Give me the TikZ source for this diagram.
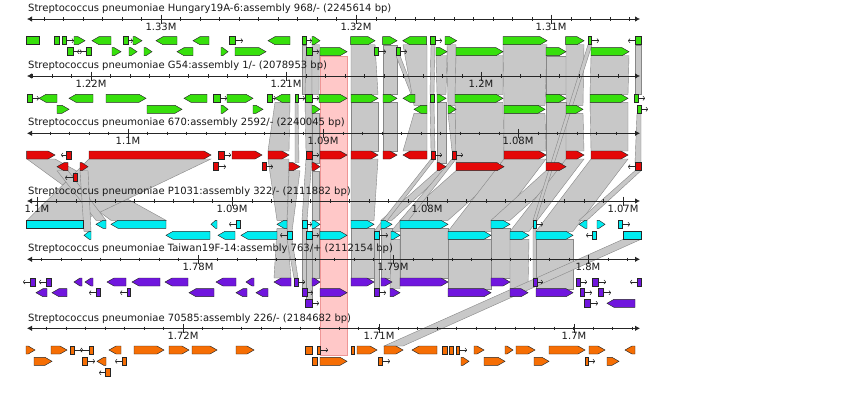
\documentclass[tikz,border=0pt]{standalone}
\usepackage{fontspec}
\setmainfont{DejaVu Sans}
\usetikzlibrary{arrows.meta}
\definecolor{cgreen}{RGB}{55,224,12}
\definecolor{cred}{RGB}{228,8,8}
\definecolor{ccyan}{RGB}{0,236,240}
\definecolor{cpurple}{RGB}{112,22,222}
\definecolor{corange}{RGB}{246,110,4}
\definecolor{bandfill}{RGB}{200,200,200}
\definecolor{bandline}{RGB}{135,135,135}
\definecolor{pinkfill}{RGB}{255,200,200}
\definecolor{pinkline}{RGB}{238,150,150}
\colorlet{gfill}{cgreen}
\tikzset{
  gene/.style={draw=black!85, line width=0.45pt, fill=gfill, line join=miter},
  prom/.style={draw=black!85, line width=0.5pt, -{To[length=2.2pt,width=4.6pt]}},
  bandsty/.style={fill=bandfill, draw=bandline, line width=0.4pt},
  axl/.style={draw=black!85, line width=0.8pt, {Latex[length=5pt,width=5.5pt]}-{Latex[length=5pt,width=5.5pt]}},
  tickm/.style={draw=black!85, line width=0.6pt},
  ttl/.style={font=\fontsize{10}{12}\selectfont, anchor=west, inner sep=0pt, text=black!90},
  lab/.style={font=\fontsize{10}{12}\selectfont, inner sep=0pt, text=black!90}
}
\newcommand\gR[3]{\pgfmathsetmacro\tp{min(7,0.75*(#2-#1))}\draw[gene] (#1,#3-4) -- ({#2-\tp},#3-4) -- (#2,#3) -- ({#2-\tp},#3+4) -- (#1,#3+4) -- cycle;}
\newcommand\gL[3]{\pgfmathsetmacro\tp{min(7,0.75*(#2-#1))}\draw[gene] (#2,#3-4) -- ({#1+\tp},#3-4) -- (#1,#3) -- ({#1+\tp},#3+4) -- (#2,#3+4) -- cycle;}
\newcommand\gB[3]{\draw[gene] (#1,#3-4) rectangle (#2,#3+4);}
\newcommand\pR[3]{\draw[prom] (#1,#3) -- (#2,#3);}
\newcommand\pL[3]{\draw[prom] (#2,#3) -- (#1,#3);}
\newcommand\band[6]{\draw[bandsty] (#1,#3) -- (#2,#3) -- (#5,#6) -- (#4,#6) -- cycle;}
\newcommand\trkaxis[4]{%
  \draw[axl] (27,#1) -- (640,#1);
  \foreach \k in {-12,...,32}{\pgfmathsetmacro\xx{#2+19.53*\k}\ifdim\xx pt>31pt\ifdim\xx pt<636pt\draw[tickm] (\xx,#1-1.8) -- (\xx,#1+1.8);\fi\fi}
  \foreach \x/\l [count=\i] in {#3}{\draw[tickm] (\x,#1-4.5) -- (\x,#1+4.5); \node[lab] (#4\i) at (\x,#1+7.8) {\l};}
}
\begin{document}
\begin{tikzpicture}[x=1pt,y=-1pt]
\useasboundingbox (0,0) rectangle (850,392);
\fill[white] (0,0) rectangle (850,392);
% pink highlight
\draw[fill=pinkfill, draw=pinkline, line width=0.4pt] (320,56) rectangle (347,355);
% ---------------- bands gap 1-2
\band{302}{306}{44.7}{302}{306}{94.3}
\band{306}{312}{55.7}{305}{312}{94.3}
\band{312}{319.5}{44.7}{312}{319}{94.3}
\band{351}{375}{44.7}{351}{378}{94.3}
\band{383}{397}{44.7}{383}{397}{94.3}
\band{396}{400}{55.7}{411}{415}{94.3}
\band{403}{427}{44.7}{414}{427}{105.3}
\band{431}{435}{44.7}{430}{434}{94.3}
\band{436}{447}{55.7}{437}{446}{94.3}
\band{447}{456}{44.7}{448}{456}{105.3}
\band{456}{503}{55.7}{455}{503}{94.3}
\band{503}{547}{44.7}{504}{545}{105.3}
\band{546}{566}{55.7}{546}{566}{94.3}
\band{566}{584}{44.7}{566}{583}{105.3}
\band{591}{629}{55.7}{590}{628}{94.3}
\band{635}{641}{44.7}{635}{641}{94.3}
% ---------------- bands gap 2-3
\band{275}{290}{102.3}{268}{289}{151}
\band{295}{298}{102.3}{295}{299}{162.7}
\band{305}{312}{102.3}{306}{312}{151}
\band{312}{319.5}{113.3}{312}{319.5}{162.7}
\band{351}{378}{102.3}{351}{378}{151}
\band{383}{397}{102.3}{383}{397}{151}
\band{414}{427}{113.3}{403}{427}{151}
\band{430}{434}{102.3}{431}{435}{151}
\band{437}{446}{102.3}{437}{446}{162.7}
\band{448}{456}{113.3}{452}{456}{151}
\band{455}{503}{102.3}{456}{504}{162.7}
\band{504}{545}{113.3}{504}{546}{151}
\band{546}{566}{102.3}{546}{566}{162.7}
\band{566}{583}{113.3}{566}{584}{151}
\band{590}{628}{102.3}{591}{628}{151}
\band{637}{641}{113.3}{635}{641}{162.7}
% ---------------- bands gap 3-4
\band{27}{55}{159}{111}{166}{220.3}
\band{89}{211}{159}{27}{83}{220.3}
\band{57}{68}{170.7}{96}{106}{220.3}
\band{80}{88}{170.7}{84}{91}{231.3}
\band{268}{289}{159}{277}{287}{220.3}
\band{289}{300}{170.7}{287}{292}{231.3}
\band{306}{312}{159}{302}{307}{220.3}
\band{312}{319.5}{170.7}{312}{319.5}{220.3}
\band{351}{378}{159}{351}{374}{220.3}
\band{437}{446}{170.7}{381}{392}{220.3}
\band{456}{504}{170.7}{400}{448}{220.3}
\band{431}{435}{159}{374}{379}{231.3}
\band{452}{456}{159}{391}{400}{231.3}
\band{504}{546}{159}{448}{491}{231.3}
\band{546}{566}{170.7}{491}{510}{220.3}
\band{566}{584}{159}{510}{529}{231.3}
\band{591}{628}{159}{536}{573}{231.3}
\band{635}{641}{170.7}{579}{587}{220.3}
% long thin band T1 -> T4
\band{588}{592}{44.7}{533}{536}{220.3}
% ---------------- bands gap 4-5
\band{277}{287}{228.3}{274}{291}{278}
\band{287}{292}{239.3}{294}{298}{278}
\band{302}{307}{228.3}{302}{307}{288.7}
\band{306}{312}{239.3}{306}{312}{299.3}
\band{312}{319.5}{228.3}{312}{319.5}{278}
\band{351}{374}{228.3}{351}{374}{278}
\band{374}{379}{239.3}{374}{379}{288.7}
\band{381}{392}{228.3}{381}{392}{278}
\band{391}{400}{239.3}{390}{400}{288.7}
\band{400}{448}{228.3}{400}{448}{278}
\band{448}{491}{239.3}{448}{491}{288.7}
\band{491}{510}{228.3}{491}{510}{278}
\band{510}{529}{239.3}{510}{528}{288.7}
\band{533}{536}{228.3}{533}{537}{278}
\band{536}{573}{239.3}{536}{573}{288.7}
% long band T4 -> T6
\band{623}{641}{239.3}{384}{403}{346}
% ---------------- axes and titles
\node[ttl] (t1) at (28,8.3) {Streptococcus pneumoniae Hungary19A-6:assembly 968/- (2245614 bp)};
\trkaxis{19}{161}{161/1.33M,356/1.32M,551/1.31M}{la}
\node[ttl] (t2) at (28,66) {Streptococcus pneumoniae G54:assembly 1/- (2078953 bp)};
\trkaxis{76}{91}{91/1.22M,286/1.21M,481/1.2M}{lb}
\node[ttl] (t3) at (28,122.7) {Streptococcus pneumoniae 670:assembly 2592/- (2240045 bp)};
\trkaxis{133.3}{128}{128/1.1M,323/1.09M,518/1.08M}{lc}
\node[ttl] (t4) at (28,191.7) {Streptococcus pneumoniae P1031:assembly 322/- (2111882 bp)};
\trkaxis{201}{37}{37/1.1M,232/1.09M,427/1.08M,623/1.07M}{ld}
\node[ttl] (t5) at (28,248.3) {Streptococcus pneumoniae Taiwan19F-14:assembly 763/+ (2112154 bp)};
\trkaxis{259.3}{198}{198/1.78M,393/1.79M,588/1.8M}{le}
\node[ttl] (t6) at (28,318.3) {Streptococcus pneumoniae 70585:assembly 226/- (2184682 bp)};
\trkaxis{328.3}{183}{183/1.72M,379/1.71M,574/1.7M}{lf}
% ---------------- track 1 genes (green)
\colorlet{gfill}{cgreen}
\def\ya{40.7}\def\yb{51.7}
\gB{26.7}{39.3}{\ya}
\gB{54}{59}{\ya}\gB{62.7}{66.7}{\ya}\pR{66.7}{74}{\ya}\gR{74}{85}{\ya}
\gL{92}{111}{\ya}
\gB{123}{128}{\ya}\pR{128}{133}{\ya}\gR{133}{142}{\ya}
\gL{156}{177}{\ya}
\gL{193}{209}{\ya}
\gB{229}{235}{\ya}\pR{235}{243}{\ya}
\gL{268}{290}{\ya}
\gB{302}{306}{\ya}\pR{306}{312}{\ya}\gR{312}{320}{\ya}
\gR{350.7}{375}{\ya}
\gR{382.7}{397}{\ya}
\gL{402.7}{426.7}{\ya}
\gB{430.7}{435}{\ya}\pR{435}{442}{\ya}
\gR{445}{456.7}{\ya}
\gR{503}{547}{\ya}
\gR{565.7}{584}{\ya}
\gB{588}{591.7}{\ya}\pR{591.7}{599}{\ya}
\pL{628}{635}{\ya}\gB{635}{641}{\ya}
\gB{67}{73}{\yb}\pR{73}{82}{\yb}\pL{77}{86}{\yb}\gB{86}{91}{\yb}
\gR{112}{121}{\yb}
\gR{129}{137}{\yb}
\gR{144}{152}{\yb}
\gL{177}{193}{\yb}
\gR{221}{228}{\yb}
\gR{235}{266}{\yb}
\gB{306}{312}{\yb}\pR{312}{319}{\yb}\gR{320}{347}{\yb}
\gB{374}{378}{\yb}\pR{378}{386}{\yb}
\gB{396}{400}{\yb}\pR{400}{407}{\yb}
\gR{436}{447}{\yb}
\gR{456}{503}{\yb}
\gR{546}{566}{\yb}
\gR{591}{629}{\yb}
% ---------------- track 2 genes (green)
\def\ya{98.3}\def\yb{109.3}
\gB{27}{32}{\ya}\pR{32}{39}{\ya}\gL{39}{57}{\ya}
\gL{69}{93}{\ya}
\gR{106}{146}{\ya}
\gL{184}{207}{\ya}
\gB{213}{220}{\ya}\pR{220}{227}{\ya}\gR{227}{253}{\ya}
\gB{267}{272}{\ya}\pR{272}{276}{\ya}\gL{275}{290}{\ya}
\gB{295}{298}{\ya}\pR{298}{305}{\ya}\gB{305}{312}{\ya}\pR{312}{319}{\ya}\gR{319}{347}{\ya}
\gR{351}{378}{\ya}
\gR{383}{397}{\ya}
\gL{403}{415}{\ya}
\gB{430}{434}{\ya}\gR{437}{446}{\ya}
\gR{455}{503}{\ya}
\gR{546}{566}{\ya}
\gR{590}{628}{\ya}
\gB{634}{638}{\ya}\pR{638}{645}{\ya}
\gR{57}{69}{\yb}
\gR{147}{182}{\yb}
\gR{221}{228}{\yb}
\gR{253}{263}{\yb}
\gR{312}{320}{\yb}
\gL{414}{427}{\yb}
\gR{448}{456}{\yb}
\gR{504}{545}{\yb}
\gR{566}{583}{\yb}
\gB{637}{641}{\yb}\pR{641}{648}{\yb}
% ---------------- track 3 genes (red)
\colorlet{gfill}{cred}
\def\ya{155}\def\yb{166.7}\def\yc{177.7}
\gR{26.7}{55}{\ya}
\pL{61}{66.7}{\ya}\gB{66.7}{71.7}{\ya}
\gR{89}{211}{\ya}
\gB{218}{224}{\ya}\pR{224}{231}{\ya}\gR{232}{262}{\ya}
\gR{268}{289}{\ya}
\gB{306}{312}{\ya}\pR{312}{319}{\ya}\gR{320}{347}{\ya}
\gR{351}{378}{\ya}
\gR{383}{397}{\ya}
\gL{403}{427}{\ya}
\gB{431}{435}{\ya}\pR{435}{442}{\ya}
\gB{452}{456}{\ya}\pR{456}{463}{\ya}
\gR{504}{546}{\ya}
\gR{566}{584}{\ya}
\gR{591}{628}{\ya}
\gL{57}{68}{\yb}
\gR{80}{88}{\yb}
\gB{213}{218}{\yb}\pR{218}{226}{\yb}
\gB{262}{266}{\yb}\pR{266}{273}{\yb}
\gR{289}{300}{\yb}
\gR{312}{320}{\yb}
\gR{437}{446}{\yb}
\gR{456}{504}{\yb}
\gR{546}{566}{\yb}
\pL{628}{635}{\yb}\gB{635}{641}{\yb}
\pL{65}{73}{\yc}\gB{73}{77}{\yc}
% ---------------- track 4 genes (cyan)
\colorlet{gfill}{ccyan}
\def\ya{224.3}\def\yb{235.3}
\gB{26.7}{83}{\ya}
\gL{96}{106}{\ya}
\gL{111}{166}{\ya}
\gL{211}{217}{\ya}
\pL{229}{236}{\ya}\gB{236}{240}{\ya}
\gL{277}{287}{\ya}
\gB{302}{307}{\ya}\pR{307}{312}{\ya}\gR{312}{320}{\ya}
\gR{351}{374}{\ya}
\gR{381}{392}{\ya}
\gR{400}{448}{\ya}
\gR{491}{510}{\ya}
\gB{533}{536}{\ya}\pR{536}{543}{\ya}
\gL{579}{587}{\ya}
\gR{597}{605}{\ya}
\gB{618}{622}{\ya}\pR{622}{630}{\ya}
\gL{84}{91}{\yb}
\gL{166}{210}{\yb}
\gL{218}{235}{\yb}
\gL{241}{277}{\yb}
\pL{280}{287}{\yb}\gB{287}{292}{\yb}
\gB{306}{312}{\yb}\pR{312}{319}{\yb}\gR{320}{347}{\yb}
\gB{374}{379}{\yb}\pR{379}{388}{\yb}
\gR{391}{400}{\yb}
\gR{448}{491}{\yb}
\gR{510}{529}{\yb}
\gR{536}{573}{\yb}
\pL{586}{592}{\yb}\gB{592}{596}{\yb}
\gB{623}{641}{\yb}
% ---------------- track 5 genes (purple)
\colorlet{gfill}{cpurple}
\def\ya{282}\def\yb{292.7}\def\yc{303.3}
\pL{23}{30}{\ya}\gB{30}{35}{\ya}
\pL{39}{46}{\ya}\gB{46}{51}{\ya}
\gL{74}{82}{\ya}
\gL{85}{93}{\ya}
\gL{107}{126}{\ya}
\gL{132}{160}{\ya}
\gL{165}{188}{\ya}
\gL{216}{236}{\ya}
\gL{246}{254}{\ya}
\gL{274}{291}{\ya}
\gB{294}{298}{\ya}\pR{298}{305}{\ya}
\gR{312}{320}{\ya}
\gR{351}{374}{\ya}
\gR{381}{392}{\ya}
\gR{400}{448}{\ya}
\gR{491}{510}{\ya}
\gB{533}{537}{\ya}\pR{537}{543}{\ya}
\gB{576}{580}{\ya}\pR{580}{587}{\ya}
\gB{592}{598}{\ya}\pR{598}{606}{\ya}
\pL{630}{637}{\ya}\gB{637}{641}{\ya}
\gL{36}{47}{\yb}
\gL{52}{67}{\yb}
\pL{89}{96}{\yb}\gB{96}{100}{\yb}
\pL{120}{127}{\yb}\gB{127}{130}{\yb}
\gL{189}{214}{\yb}
\gL{236}{247}{\yb}
\gL{256}{268}{\yb}
\gB{302}{307}{\yb}\pR{307}{313}{\yb}
\gR{320}{347}{\yb}
\gB{374}{379}{\yb}\pR{379}{386}{\yb}
\gR{390}{400}{\yb}
\gR{448}{491}{\yb}
\gR{510}{528}{\yb}
\gR{536}{573}{\yb}
\gB{580}{584}{\yb}\pR{584}{592}{\yb}
\gB{598}{603}{\yb}\pR{603}{611}{\yb}
\gB{305}{312}{\yc}\pR{312}{319}{\yc}
\gB{584}{590}{\yc}\pR{590}{598}{\yc}
\gL{607}{635}{\yc}
% ---------------- track 6 genes (orange)
\colorlet{gfill}{corange}
\def\ya{350}\def\yb{361.3}\def\yc{372.7}
\gR{26}{35}{\ya}
\gR{51}{67}{\ya}
\gB{70}{74}{\ya}\pR{74}{83}{\ya}\pL{80}{89}{\ya}\gB{89}{93}{\ya}
\gL{109}{121}{\ya}
\gR{134}{164}{\ya}
\gR{169}{189}{\ya}
\gR{192}{217}{\ya}
\gR{236}{254}{\ya}
\gB{305}{312}{\ya}\gB{317}{320}{\ya}\pR{320}{328}{\ya}
\gB{351}{354}{\ya}\gR{357}{377}{\ya}
\gR{384}{403}{\ya}
\gL{412}{437}{\ya}
\gB{442}{447}{\ya}\gB{449}{453}{\ya}\gB{456}{459}{\ya}\pR{459}{467}{\ya}
\gR{474}{484}{\ya}
\gR{505}{513}{\ya}
\gR{516}{535}{\ya}
\gR{549}{585}{\ya}
\gR{589}{605}{\ya}
\gL{625}{635}{\ya}
\gR{34}{52}{\yb}
\gB{82}{87}{\yb}\pR{87}{95}{\yb}\gL{97}{106}{\yb}
\pL{115}{122}{\yb}\gB{122}{126}{\yb}
\gB{312}{317}{\yb}\gR{320}{347}{\yb}
\gB{378}{382}{\yb}\pR{382}{390}{\yb}
\gR{461}{469}{\yb}
\gR{484}{505}{\yb}
\gR{534}{549}{\yb}
\gB{585}{588}{\yb}\pR{588}{595}{\yb}
\gR{607}{619}{\yb}
\pL{99}{105}{\yc}\gB{105}{110}{\yc}
\end{tikzpicture}
\end{document}
